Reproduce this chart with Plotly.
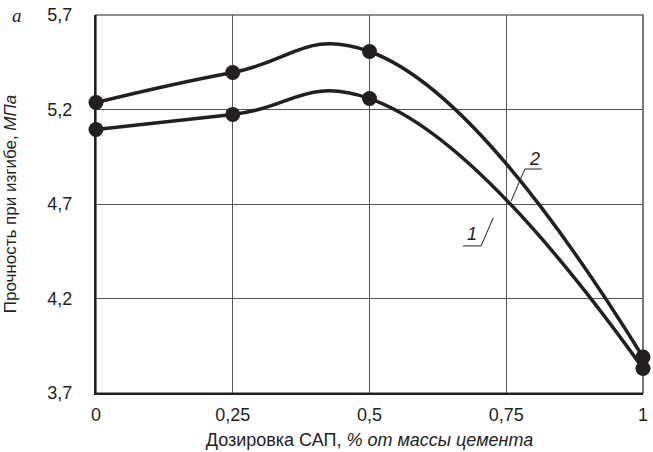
import plotly.graph_objects as go

# Дозировка САП, % от массы цемента
dosage = [0, 0.25, 0.5, 1]
# Прочность при изгибе, МПа
curve_1 = [5.094, 5.174, 5.258, 3.83]
curve_2 = [5.237, 5.396, 5.507, 3.89]

x_ticks = [0, 0.25, 0.5, 0.75, 1]
x_labels = ["0", "0,25", "0,5", "0,75", "1"]
y_ticks = [3.7, 4.2, 4.7, 5.2, 5.7]
y_labels = ["3,7", "4,2", "4,7", "5,2", "5,7"]

ink = "#231f20"
font = "Liberation Sans, Arial, sans-serif"

fig = go.Figure()
for name, vals in [("1", curve_1), ("2", curve_2)]:
    fig.add_trace(go.Scatter(
        x=dosage, y=vals, name=name, mode="lines+markers",
        line=dict(color=ink, width=3.5, shape="spline", smoothing=1.3),
        marker=dict(color=ink, size=15), cliponaxis=False,
    ))

# curve labels with leader lines (data coordinates)
labels = [
    dict(text="<i>1</i>", tx=0.687, ty=4.541, ux=(0.671, 0.704), uy=4.478, lx=(0.704, 0.726), ly=(4.478, 4.626)),
    dict(text="<i>2</i>", tx=0.801, ty=4.938, ux=(0.784, 0.815), uy=4.885, lx=(0.784, 0.759), ly=(4.885, 4.716)),
]
for lb in labels:
    fig.add_annotation(x=lb["tx"], y=lb["ty"], text=lb["text"], showarrow=False,
                       font=dict(family=font, size=18, color=ink),
                       xanchor="center", yanchor="middle")
    fig.add_shape(type="line", x0=lb["ux"][0], x1=lb["ux"][1], y0=lb["uy"], y1=lb["uy"],
                  line=dict(color=ink, width=1))
    fig.add_shape(type="line", x0=lb["lx"][0], x1=lb["lx"][1], y0=lb["ly"][0], y1=lb["ly"][1],
                  line=dict(color=ink, width=1))

# frame (top and right thinner)
fig.add_shape(type="rect", xref="paper", yref="paper", x0=0, x1=1, y0=0, y1=1,
              line=dict(color=ink, width=1.2), layer="below")

fig.add_annotation(xref="paper", yref="paper", x=-0.145, y=1.0, text="<i>a</i>", showarrow=False,
                   font=dict(family="Liberation Serif, serif", size=19, color=ink),
                   xanchor="center", yanchor="middle")

fig.update_layout(
    width=653, height=452,
    margin=dict(l=96, r=10, t=15, b=59),
    paper_bgcolor="white", plot_bgcolor="white",
    showlegend=False,
    font=dict(family=font, size=18, color=ink),
    xaxis=dict(
        range=[0, 1], tickvals=x_ticks, ticktext=x_labels, automargin=False,
        showgrid=True, gridcolor="#555555", gridwidth=1,
        showline=True, linecolor=ink, linewidth=2, ticks="", ticklabelstandoff=4,
        zeroline=False, tickfont=dict(size=18),
        title=dict(text="Дозировка САП, <i>% от массы цемента</i>", standoff=10,
                   font=dict(size=18)),
    ),
    yaxis=dict(
        range=[3.7, 5.7], tickvals=y_ticks, ticktext=y_labels, automargin=False,
        showgrid=True, gridcolor="#555555", gridwidth=1,
        showline=True, linecolor=ink, linewidth=2, ticks="", ticklabelstandoff=18,
        zeroline=False, tickfont=dict(size=18),
        title=dict(text="Прочность при изгибе, <i>МПа</i>", standoff=26,
                   font=dict(size=17)),
    ),
)

fig.write_html("out.html", config={"displayModeBar": False},
               post_script="document.body.style.margin='0';")
